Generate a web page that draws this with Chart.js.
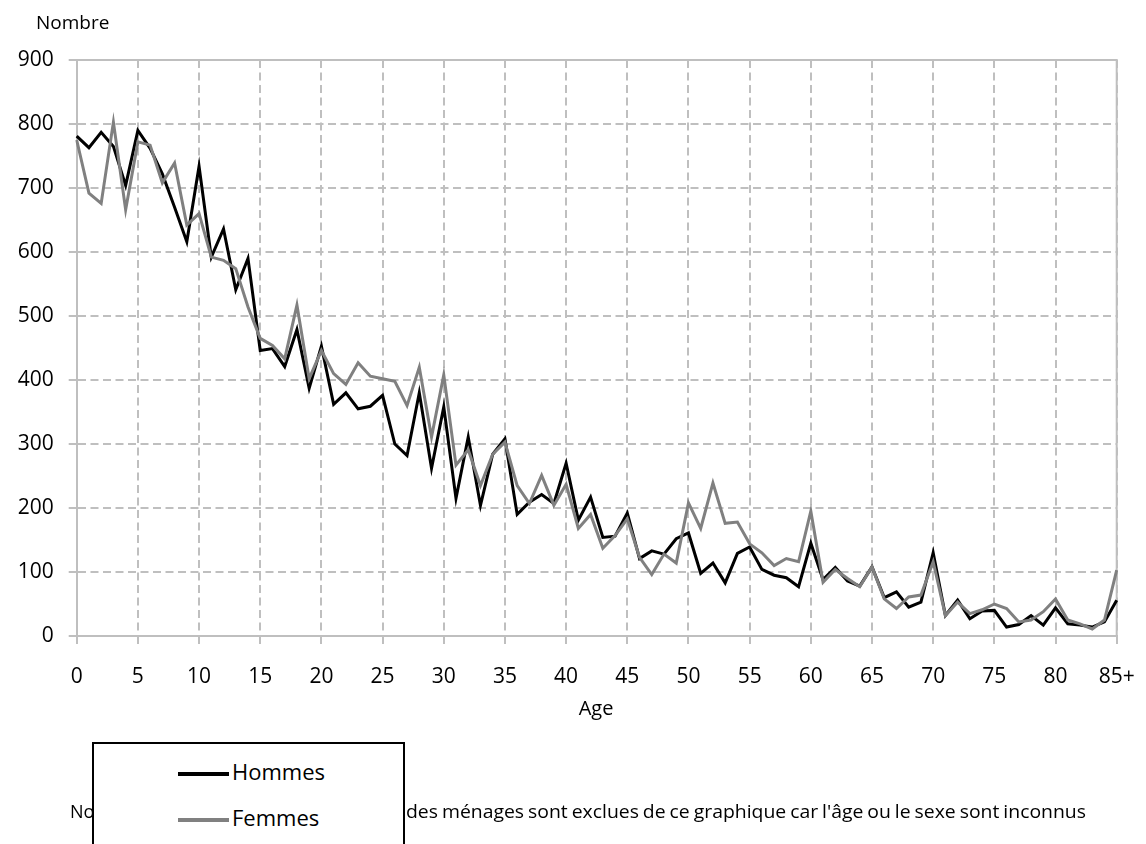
<!DOCTYPE html>
<html lang="fr">
<head>
<meta charset="utf-8">
<script src="https://cdn.jsdelivr.net/npm/chart.js@4"></script>
<style>
  html, body { margin: 0; padding: 0; background: #fff; }
  #wrap { position: relative; width: 1146px; height: 844px; overflow: hidden; font-family: "Open Sans", sans-serif; color: #000; }
  #c { position: absolute; left: 0; top: 0; }
  .txt { position: absolute; white-space: nowrap; }
  #ytitle { left: 36px; top: 9px; font-size: 19px; }
  #xtitle { left: 596px; top: 694px; font-size: 20px; transform: translateX(-50%); }
  #note1 { left: 70px; top: 799px; font-size: 18px; }
  #note2 { left: 406px; top: 799px; font-size: 18px; transform-origin: 0 0; word-spacing: -1px; }
  #legend { position: absolute; left: 92px; top: 742px; width: 309px; height: 140px; border: 2px solid #000; background: #fff; }
  .lg { position: absolute; left: 84px; width: 51px; height: 4px; }
  .lt { position: absolute; left: 138px; font-size: 22px; white-space: nowrap; }
</style>
</head>
<body>
<div id="wrap">
  <canvas id="c" width="1146" height="844"></canvas>
  <div class="txt" id="ytitle">Nombre</div>
  <div class="txt" id="xtitle">Age</div>
  <div class="txt" id="note1">Note : certaines personnes membres </div>
  <div class="txt" id="note2">des ménages sont exclues de ce graphique car l'âge ou le sexe sont inconnus</div>
  <div id="legend">
    <div class="lg" id="lg1" style="top:28px;"></div>
    <div class="lt" id="lt1" style="top:12px;"></div>
    <div class="lg" id="lg2" style="top:74px;"></div>
    <div class="lt" id="lt2" style="top:58px;"></div>
  </div>
</div>
<script>
// ---- data ----
const ages = ['0','1','2','3','4','5','6','7','8','9','10','11','12','13','14','15','16','17','18','19',
  '20','21','22','23','24','25','26','27','28','29','30','31','32','33','34','35','36','37','38','39',
  '40','41','42','43','44','45','46','47','48','49','50','51','52','53','54','55','56','57','58','59',
  '60','61','62','63','64','65','66','67','68','69','70','71','72','73','74','75','76','77','78','79',
  '80','81','82','83','84','85+'];
const hommes = [781,763,787,765,704,790,762,722,670,616,734,592,636,541,590,446,449,421,479,387,
  453,362,380,355,359,376,300,282,380,262,358,215,311,204,284,308,190,209,221,207,
  270,181,217,154,156,192,121,133,128,152,161,98,114,83,129,139,104,95,91,77,
  145,88,107,86,78,108,60,69,45,53,130,32,56,27,39,40,14,18,32,17,
  44,19,17,14,22,56];
const femmes = [775,692,676,803,666,772,767,708,739,642,660,592,587,574,514,465,454,433,517,402,
  446,410,393,427,406,402,398,360,420,311,408,267,291,235,284,303,235,207,251,204,
  237,168,190,137,157,183,123,96,128,114,208,168,239,176,178,144,130,110,121,116,
  195,84,104,90,77,108,58,43,61,64,116,32,53,35,41,50,43,22,25,38,
  58,25,19,11,25,103];
const seriesNames = ['Hommes', 'Femmes'];
const seriesColors = ['#000000', '#808080'];
const yTicks = [0,100,200,300,400,500,600,700,800,900];

// ---- legend (HTML, real text) ----
document.getElementById('lg1').style.background = seriesColors[0];
document.getElementById('lg2').style.background = seriesColors[1];
document.getElementById('lt1').textContent = seriesNames[0];
document.getElementById('lt2').textContent = seriesNames[1];

// fit note visible part width
(function(){
  const n = document.getElementById('note2');
  const w = n.getBoundingClientRect().width;
  n.style.transform = 'scaleX(' + (680 / w) + ')';
})();

const gridCol = '#bfbfbf';
const frame = {
  id: 'frame',
  beforeDatasetsDraw(chart) {
    const {ctx, chartArea: a} = chart;
    ctx.save();
    ctx.strokeStyle = gridCol;
    ctx.lineWidth = 2;
    ctx.beginPath();
    ctx.moveTo(a.left, a.top);
    ctx.lineTo(a.right, a.top);
    ctx.lineTo(a.right, a.bottom);
    ctx.stroke();
    ctx.restore();
  }
};

Chart.defaults.font.family = '"Open Sans", sans-serif';
Chart.defaults.color = '#000';

function noPad(s) { s.paddingLeft = 0; s.paddingRight = 0; s.paddingTop = 0; s.paddingBottom = 0; }

new Chart(document.getElementById('c'), {
  type: 'line',
  data: {
    labels: ages,
    datasets: [
      { label: seriesNames[0], data: hommes, borderColor: seriesColors[0], backgroundColor: seriesColors[0],
        borderWidth: 3, pointRadius: 0, tension: 0, order: 1, borderJoinStyle: 'miter' },
      { label: seriesNames[1], data: femmes, borderColor: seriesColors[1], backgroundColor: seriesColors[1],
        borderWidth: 3, pointRadius: 0, tension: 0, order: 0, borderJoinStyle: 'miter' }
    ]
  },
  options: {
    responsive: false,
    animation: false,
    events: [],
    layout: { padding: { left: 0, top: 60, right: 29.3, bottom: 158 } },
    plugins: { legend: { display: false }, tooltip: { enabled: false } },
    scales: {
      x: {
        type: 'category',
        offset: false,
        afterFit(s) { s.height = 50; noPad(s); },
        grid: {
          color: (c) => (c.index % 5 === 0 || c.index === ages.length - 1) ? gridCol : 'rgba(0,0,0,0)',
          lineWidth: 2,
          tickLength: 8,
          drawOnChartArea: true
        },
        border: { display: true, color: gridCol, width: 2, dash: [8, 4.5] },
        ticks: {
          autoSkip: false, maxRotation: 0, minRotation: 0, padding: 20,
          font: { size: 21 },
          callback: (v, i) => (i % 5 === 0 || i === ages.length - 1) ? ages[i] : ''
        }
      },
      y: {
        min: 0, max: 900,
        afterFit(s) { s.width = 76.7; noPad(s); },
        afterBuildTicks(s) { s.ticks = yTicks.map(v => ({ value: v })); },
        grid: { color: gridCol, lineWidth: 2, tickLength: 8 },
        border: { display: true, color: gridCol, width: 2, dash: [8, 4.5] },
        ticks: { padding: 15, font: { size: 21 } }
      }
    }
  },
  plugins: [frame]
});
</script>
</body>
</html>
